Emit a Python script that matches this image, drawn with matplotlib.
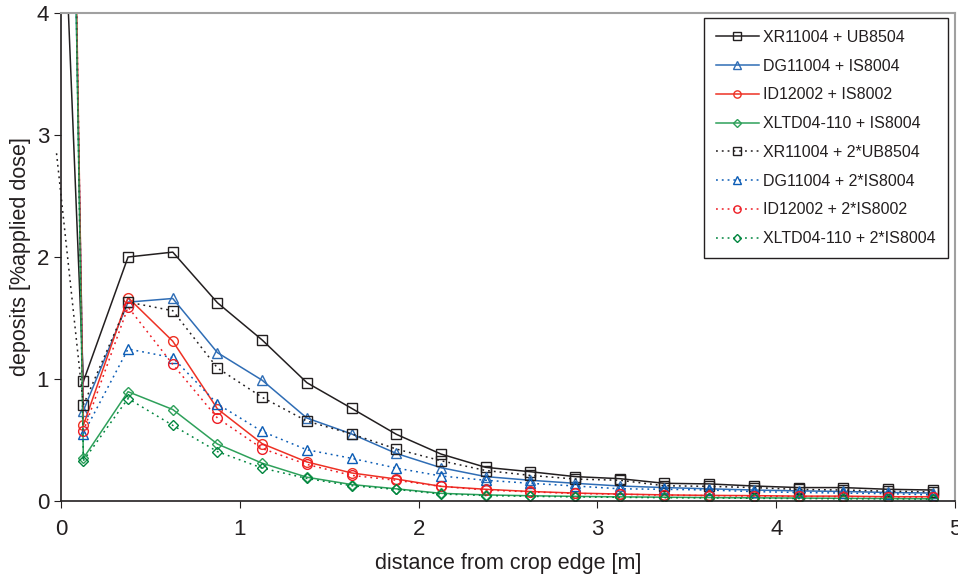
import matplotlib.pyplot as plt
import numpy as np

plt.rcParams['font.family'] = ['Liberation Sans', 'DejaVu Sans']

# distances [m]
x = [0, 0.125, 0.375, 0.625, 0.875, 1.125, 1.375, 1.625, 1.875, 2.125,
     2.375, 2.625, 2.875, 3.125, 3.375, 3.625, 3.875, 4.125, 4.375, 4.625, 4.875]
x_dotted_xr = [-0.025] + x[1:]

xr_ub = [5.5, 0.98, 2.00, 2.04, 1.625, 1.32, 0.97, 0.76, 0.547, 0.385,
         0.276, 0.24, 0.20, 0.183, 0.145, 0.14, 0.123, 0.11, 0.11, 0.096, 0.09]
dg_is = [11, 0.74, 1.63, 1.66, 1.216, 0.99, 0.68, 0.55, 0.39, 0.273,
         0.20, 0.17, 0.145, 0.123, 0.11, 0.10, 0.09, 0.083, 0.078, 0.07, 0.065]
id_is = [12, 0.62, 1.667, 1.31, 0.755, 0.47, 0.32, 0.23, 0.18, 0.12,
         0.096, 0.078, 0.065, 0.057, 0.05, 0.046, 0.044, 0.04, 0.04, 0.035, 0.035]
xl_is = [12, 0.35, 0.896, 0.75, 0.467, 0.31, 0.195, 0.135, 0.10, 0.063,
         0.05, 0.043, 0.038, 0.034, 0.031, 0.028, 0.026, 0.024, 0.022, 0.02, 0.018]
xr_2ub = [2.85, 0.787, 1.63, 1.56, 1.09, 0.85, 0.655, 0.55, 0.426, 0.33,
          0.25, 0.21, 0.18, 0.17, 0.125, 0.12, 0.11, 0.095, 0.09, 0.08, 0.075]
dg_2is = [12, 0.55, 1.246, 1.175, 0.795, 0.57, 0.42, 0.35, 0.27, 0.205,
          0.17, 0.145, 0.123, 0.10, 0.096, 0.09, 0.077, 0.07, 0.065, 0.06, 0.05]
id_2is = [12, 0.57, 1.59, 1.12, 0.68, 0.43, 0.30, 0.21, 0.17, 0.12,
          0.09, 0.075, 0.062, 0.055, 0.048, 0.044, 0.04, 0.037, 0.036, 0.033, 0.032]
xl_2is = [12, 0.33, 0.84, 0.62, 0.405, 0.27, 0.185, 0.125, 0.095, 0.057,
          0.045, 0.038, 0.034, 0.03, 0.027, 0.025, 0.022, 0.02, 0.018, 0.017, 0.015]

labels = ['XR11004 + UB8504', 'DG11004 + IS8004', 'ID12002 + IS8002',
          'XLTD04-110 + IS8004', 'XR11004 + 2*UB8504', 'DG11004 + 2*IS8004',
          'ID12002 + 2*IS8002', 'XLTD04-110 + 2*IS8004']

fig = plt.figure(figsize=(9.58, 5.77), dpi=100)
ax = fig.add_axes([61 / 958, 1 - 501 / 577, 894 / 958, 488 / 577])

dot = (0, (1.2, 2.6))
series = [
    (x, xr_ub, '#231f20', 's', '-', 7),
    (x, dg_is, '#2f6db5', '^', '-', 7),
    (x, id_is, '#ee3124', 'o', '-', 7),
    (x, xl_is, '#2ea05a', 'D', '-', 5),
    (x_dotted_xr, xr_2ub, '#231f20', 's', dot, 7),
    (x, dg_2is, '#0b5cb5', '^', dot, 7),
    (x, id_2is, '#ee1c24', 'o', dot, 7),
    (x, xl_2is, '#00853e', 'D', dot, 5),
]
for (xs, ys, c, m, ls, ms), lab in zip(series, labels):
    ax.plot(xs[1:], ys[1:], color=c, marker=m, ls=ls, lw=1.1,
            ms=ms, mfc='none', mec=c, mew=1.0, label=lab)
    # steep initial segment without marker
    ax.plot(xs[:2], ys[:2], color=c, ls=ls, lw=1.1,
            clip_on=(xs[0] >= 0))

ax.set_xlim(0, 5)
ax.set_ylim(0, 4)
ax.set_xticks(range(6))
ax.set_yticks(range(5))
ax.tick_params(direction='out', length=5, labelsize=16, color='#231f20',
               labelcolor='#231f20')
ax.tick_params(axis='x', pad=8)
for s in ['top', 'right']:
    ax.spines[s].set_color('#a0a0a0')
    ax.spines[s].set_linewidth(1.5)
for s in ['left', 'bottom']:
    ax.spines[s].set_color('#231f20')
    ax.spines[s].set_linewidth(1.2)

ax.set_xlabel('distance from crop edge [m]', fontsize=15.5, labelpad=9,
              color='#231f20')
ax.set_ylabel('deposits [%applied dose]', fontsize=15.5, labelpad=4,
              color='#231f20')

leg = ax.legend(loc='upper right', bbox_to_anchor=(0.9922, 0.9898),
                borderaxespad=0, fontsize=11.5,
                numpoints=1, handlelength=2.7, fancybox=False,
                edgecolor='#231f20', framealpha=1, labelspacing=0.86,
                borderpad=0.75, handletextpad=0.3, markerscale=0.75)
leg.get_frame().set_linewidth(1.0)
for t in leg.get_texts():
    t.set_color('#231f20')

fig.savefig('out.png', dpi=100)
